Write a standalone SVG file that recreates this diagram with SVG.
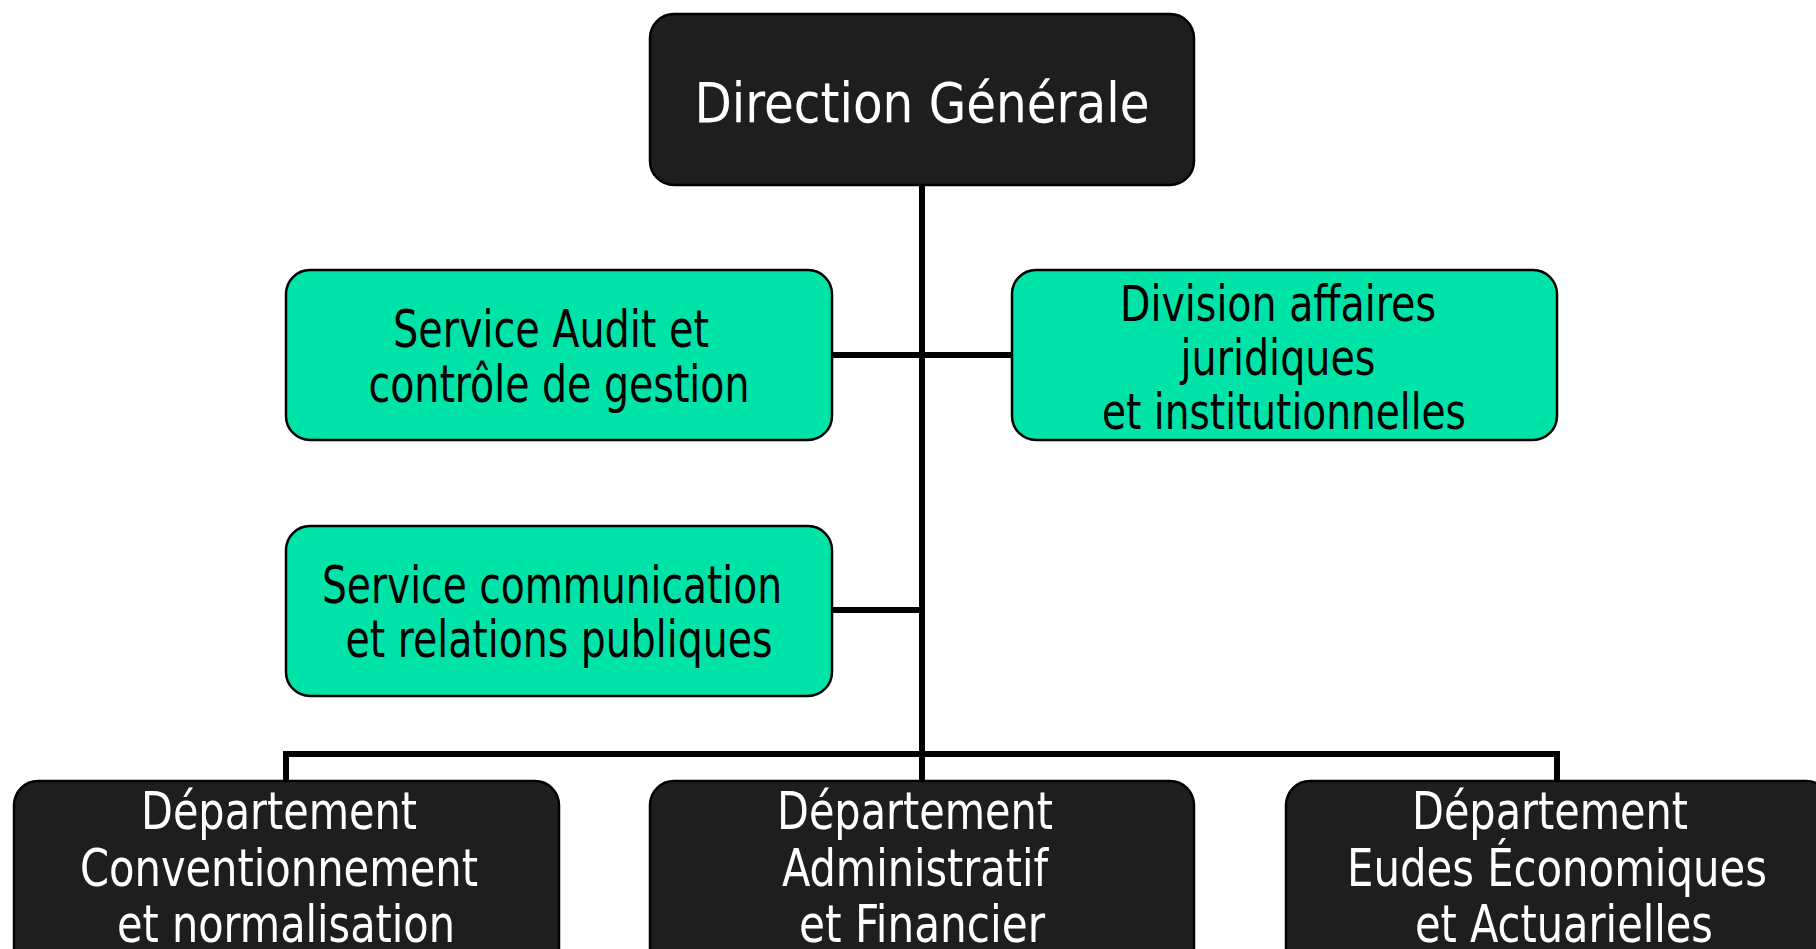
<svg xmlns="http://www.w3.org/2000/svg" width="1816" height="949" viewBox="0 0 1816 949">
<style>
.dark{fill:#1e1e1e;stroke:#000;stroke-width:2.5}
.green{fill:#00e3a8;stroke:#000;stroke-width:2.5}
.t{font-family:"DejaVu Sans Condensed","DejaVu Sans",sans-serif;text-anchor:middle}
.tw{fill:#fff}
.tb{fill:#000}
.conn{stroke:#000;stroke-width:6;fill:none}
</style>
<rect width="1816" height="949" fill="#fff"/>
<g id="connectors">
<line class="conn" x1="922" y1="185" x2="922" y2="757"/>
<line class="conn" x1="832" y1="355" x2="1012" y2="355"/>
<line class="conn" x1="832" y1="610" x2="922" y2="610"/>
<polyline class="conn" points="286,781 286,754 1557,754 1557,781"/>
<line class="conn" x1="922" y1="754" x2="922" y2="781"/>
</g>
<g id="direction-generale">
<rect class="dark" x="650" y="14" width="544" height="171" rx="24"/>
<text class="t tw" x="922" y="122" font-size="56" textLength="455" lengthAdjust="spacingAndGlyphs">Direction Générale</text>
</g>
<g id="service-audit">
<rect class="green" x="286" y="270" width="546" height="170" rx="24"/>
<text class="t tb" font-size="51" x="551" y="347" textLength="316" lengthAdjust="spacingAndGlyphs">Service Audit et</text>
<text class="t tb" font-size="51" x="559" y="402" textLength="381" lengthAdjust="spacingAndGlyphs">contrôle de gestion</text>
</g>
<g id="division-juridique">
<rect class="green" x="1012" y="270" width="545" height="170" rx="24"/>
<text class="t tb" font-size="50" x="1278" y="321" textLength="316" lengthAdjust="spacingAndGlyphs">Division affaires</text>
<text class="t tb" font-size="50" x="1278" y="375" textLength="195" lengthAdjust="spacingAndGlyphs">juridiques</text>
<text class="t tb" font-size="50" x="1284" y="429" textLength="364" lengthAdjust="spacingAndGlyphs">et institutionnelles</text>
</g>
<g id="service-communication">
<rect class="green" x="286" y="526" width="546" height="170" rx="24"/>
<text class="t tb" font-size="51" x="552" y="603" textLength="460" lengthAdjust="spacingAndGlyphs">Service communication</text>
<text class="t tb" font-size="51" x="559" y="657" textLength="427" lengthAdjust="spacingAndGlyphs">et relations publiques</text>
</g>
<g id="dept-conventionnement">
<rect class="dark" x="14" y="781" width="545" height="200" rx="24"/>
<text class="t tw" font-size="52" x="279" y="829" textLength="276" lengthAdjust="spacingAndGlyphs">Département</text>
<text class="t tw" font-size="52" x="279" y="886" textLength="398" lengthAdjust="spacingAndGlyphs">Conventionnement</text>
<text class="t tw" font-size="52" x="286" y="942" textLength="338" lengthAdjust="spacingAndGlyphs">et normalisation</text>
</g>
<g id="dept-administratif">
<rect class="dark" x="650" y="781" width="544" height="200" rx="24"/>
<text class="t tw" font-size="52" x="915" y="829" textLength="276" lengthAdjust="spacingAndGlyphs">Département</text>
<text class="t tw" font-size="52" x="915" y="886" textLength="266" lengthAdjust="spacingAndGlyphs">Administratif</text>
<text class="t tw" font-size="52" x="922" y="942" textLength="246" lengthAdjust="spacingAndGlyphs">et Financier</text>
</g>
<g id="dept-etudes">
<rect class="dark" x="1286" y="781" width="544" height="200" rx="24"/>
<text class="t tw" font-size="52" x="1550" y="829" textLength="276" lengthAdjust="spacingAndGlyphs">Département</text>
<text class="t tw" font-size="52" x="1557" y="886" textLength="420" lengthAdjust="spacingAndGlyphs">Eudes Économiques</text>
<text class="t tw" font-size="52" x="1564" y="942" textLength="298" lengthAdjust="spacingAndGlyphs">et Actuarielles</text>
</g>
</svg>
